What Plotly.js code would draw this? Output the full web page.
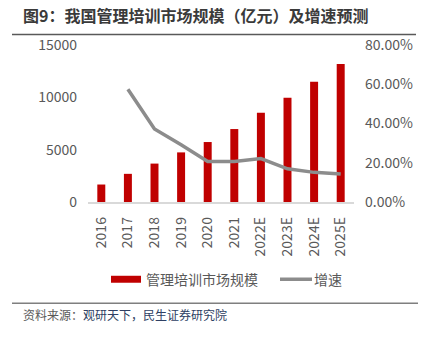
<!DOCTYPE html>
<html>
<head>
<meta charset="utf-8">
<script src="https://cdn.plot.ly/plotly-3.0.1.min.js"></script>
<style>html,body{margin:0;padding:0;background:#fff;}#chart{width:427px;height:341px;}</style>
</head>
<body>
<div id="chart"></div>
<script>
const years = ['2016','2017','2018','2019','2020','2021','2022E','2023E','2024E','2025E'];
const marketSize = [1670, 2690, 3670, 4740, 5730, 6970, 8520, 9950, 11500, 13190];
const growthRate = [null, 0.575, 0.372, 0.292, 0.206, 0.207, 0.221, 0.169, 0.151, 0.143];
const titleText = '图9：我国管理培训市场规模（亿元）及增速预测';
const legendNames = ['管理培训市场规模', '增速'];
const sourceText = '资料来源：<span style="color:#2e3f63">观研天下，民生证券研究院</span>';

const W = 427, H = 341;
const L = 88, R = 354, T = 45, B = 202.5;
const px = x => (x - L) / (R - L);
const py = y => (B - y) / (B - T);
const FONT = '"Noto Sans CJK SC", "Noto Sans", sans-serif';

const traces = [
  {type:'bar', x: years, y: marketSize, name: legendNames[0], marker:{color:'#C00000'}, width:0.3, yaxis:'y', showlegend:false, hoverinfo:'skip'},
  {type:'scatter', mode:'lines', x: years, y: growthRate, name: legendNames[1], line:{color:'#8c8c8c', width:3.5}, yaxis:'y2', showlegend:false, connectgaps:false, hoverinfo:'skip'}
];

const layout = {
  width: W, height: H,
  margin: {l: L, r: W - R, t: T, b: H - B, pad: 0},
  paper_bgcolor:'#fff', plot_bgcolor:'#fff',
  font: {family: FONT, color:'#595959', size:14},
  showlegend:false,
  xaxis: {type:'category', showline:true, linecolor:'#d9d9d9', linewidth:1.5, ticks:'', tickangle:-90, tickfont:{size:14, color:'#595959'}, showgrid:false, zeroline:false, fixedrange:true, ticklabelstandoff:8},
  yaxis: {range:[0,15000], dtick:5000, tickformat:'d', showgrid:false, zeroline:false, showline:false, ticks:'', tickfont:{size:14, color:'#595959'}, ticklabelstandoff:10, fixedrange:true},
  yaxis2: {overlaying:'y', side:'right', range:[0,0.8], dtick:0.2, tickformat:'.2%', showgrid:false, zeroline:false, showline:false, ticks:'', tickfont:{size:14, color:'#595959'}, ticklabelstandoff:10, fixedrange:true},
  shapes: [
    {type:'line', xref:'paper', yref:'paper', x0:px(12), x1:px(416), y0:py(34.5), y1:py(34.5), line:{color:'#595959', width:1.5}},
    {type:'line', xref:'paper', yref:'paper', x0:px(12), x1:px(418), y0:py(304), y1:py(304), line:{color:'#7f7f7f', width:1.5}},
    {type:'rect', xref:'paper', yref:'paper', x0:px(111), x1:px(141), y0:py(283.5), y1:py(276.5), fillcolor:'#C00000', line:{width:0}},
    {type:'line', xref:'paper', yref:'paper', x0:px(280), x1:px(312), y0:py(280), y1:py(280), line:{color:'#8c8c8c', width:3.5}}
  ],
  annotations: [
    {xref:'paper', yref:'paper', x:px(21), y:py(15), xanchor:'left', yanchor:'middle', text:'<b>'+titleText+'</b>', showarrow:false, font:{size:16, color:'#3a3a3a', family:FONT}},
    {xref:'paper', yref:'paper', x:px(144), y:py(280), xanchor:'left', yanchor:'middle', text:legendNames[0], showarrow:false, font:{size:14, color:'#595959', family:FONT}},
    {xref:'paper', yref:'paper', x:px(312), y:py(280), xanchor:'left', yanchor:'middle', text:legendNames[1], showarrow:false, font:{size:14, color:'#595959', family:FONT}},
    {xref:'paper', yref:'paper', x:px(21), y:py(315), xanchor:'left', yanchor:'middle', text:sourceText, showarrow:false, font:{size:12, color:'#595959', family:FONT}}
  ]
};

Plotly.newPlot('chart', traces, layout, {displayModeBar:false, staticPlot:true});
</script>
</body>
</html>
